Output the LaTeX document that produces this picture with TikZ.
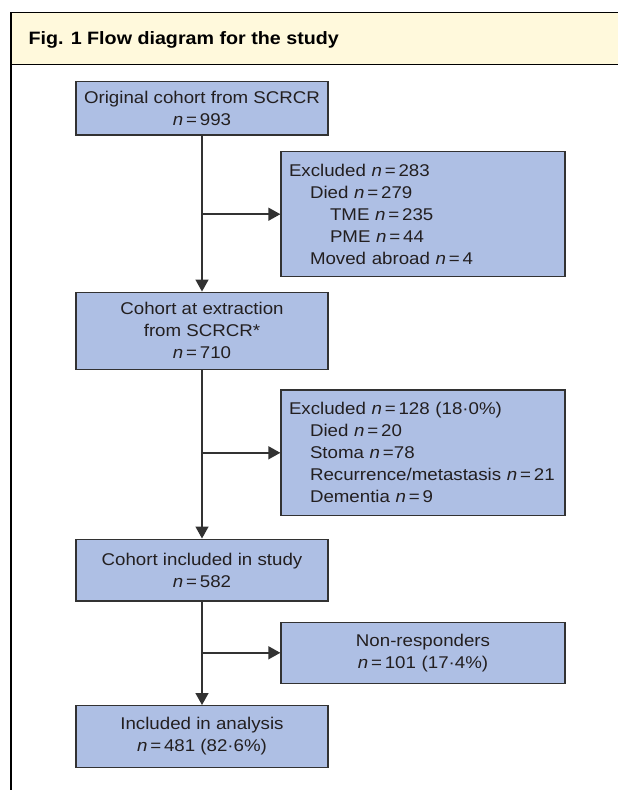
\documentclass[tikz,border=0pt]{standalone}
\usepackage{fontspec}
\setmainfont{Liberation Sans}[FakeStretch=1.1]
\usetikzlibrary{arrows.meta}
\definecolor{boxfill}{RGB}{174,191,228}
\definecolor{hdrfill}{RGB}{255,249,220}
\definecolor{linegray}{RGB}{50,50,50}
\definecolor{textcol}{RGB}{35,31,32}
\newcommand\bodyfnt{\fontsize{17}{22}\selectfont}
\newcommand\hdrfnt{\fontsize{17.9}{22}\selectfont\bfseries}
\newcommand\nn{\textit{n}\,=\,}
\begin{document}
\begin{tikzpicture}[x=1pt,y=-1pt,
  flowbox/.style={draw=linegray, line width=1.3pt, fill=boxfill, inner sep=0pt,
    align=center, font=\bodyfnt, text=textcol, minimum width=252pt},
  sidebox/.style={draw=linegray, line width=1.3pt, fill=boxfill, inner xsep=8pt, inner ysep=0pt,
    font=\bodyfnt, text=textcol, minimum width=284pt, text width=268pt},
  conn/.style={draw=linegray, line width=1.5pt, -{Triangle[length=12pt 0 0,width=13pt 0 0]}},
  frameline/.style={draw=black, line width=1.6pt}
]
\useasboundingbox (0,0) rectangle (618,790);
% header band and frame
\fill[hdrfill] (11,12.3) rectangle (620,64.3);
\draw[frameline] (11,792) -- (11,12.3) -- (620,12.3);
\draw[frameline] (11,64.3) -- (620,64.3);
\node[anchor=base west, inner sep=0pt, font=\hdrfnt, text=black] (title) at (28.3,44) {Fig. 1 Flow diagram for the study};

% main column
\node[flowbox, minimum height=53.3pt] (b1) at (202,108.3) {Original cohort from SCRCR\\\nn993};
\node[flowbox, minimum height=77pt] (b2) at (202,330.7) {Cohort at extraction\\from SCRCR*\\\nn710};
\node[flowbox, minimum height=61.7pt] (b3) at (202,570) {Cohort included in study\\\nn582};
\node[flowbox, minimum height=61.7pt] (b4) at (202,736.5) {Included in analysis\\\nn481 (82·6\%)};

% side boxes
\node[sidebox, minimum height=125pt, align=left] (e1) at (423,214.2)
  {Excluded \nn283\\
   \hspace*{21pt}Died \nn279\\
   \hspace*{41pt}TME \nn235\\
   \hspace*{41pt}PME \nn44\\
   \hspace*{21pt}Moved abroad \nn4};
\node[sidebox, minimum height=125.5pt, align=left] (e2) at (423,452.8)
  {\mbox{Excluded \nn128 (18·0\%)}\\
   \hspace*{21pt}Died \nn20\\
   \hspace*{21pt}Stoma \textit{n}\,=78\\
   \mbox{\hspace*{21pt}Recurrence/metastasis \nn21}\\
   \hspace*{21pt}Dementia \nn9};
\node[sidebox, minimum height=61pt, align=center] (nr) at (423,652.8)
  {Non-responders\\\nn101 (17·4\%)};

% connectors
\draw[conn] (b1) -- (b2);
\draw[conn] (b2) -- (b3);
\draw[conn] (b3) -- (b4);
\draw[conn] (b1.south |- e1.west) -- (e1.west);
\draw[conn] (b2.south |- e2.west) -- (e2.west);
\draw[conn] (b3.south |- nr.west) -- (nr.west);
\end{tikzpicture}
\end{document}
